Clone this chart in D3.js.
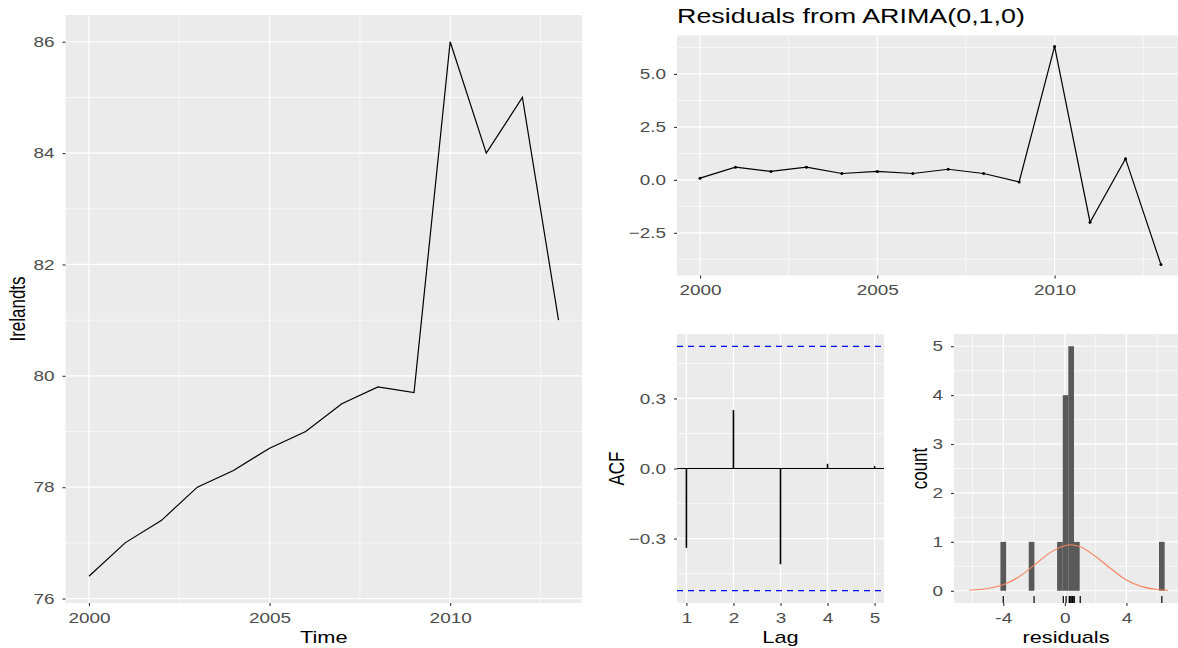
<!DOCTYPE html>
<html>
<head>
<meta charset="utf-8">
<script src="https://cdn.jsdelivr.net/npm/d3@7"></script>
<style>
  body { margin: 0; background: #fff; }
  svg { display: block; font-family: "Liberation Sans", Arial, sans-serif; }
</style>
</head>
<body>
<div id="chart"></div>
<script>
// data
const years = [2000, 2001, 2002, 2003, 2004, 2005, 2006, 2007, 2008, 2009, 2010, 2011, 2012, 2013]
const irelandValues = [76.4, 77.0, 77.4, 78.0, 78.3, 78.7, 79.0, 79.5, 79.8, 79.7, 86.0, 84.0, 85.0, 81.0]
const residualValues = [0.08, 0.6, 0.4, 0.6, 0.3, 0.4, 0.3, 0.5, 0.3, -0.1, 6.3, -2.0, 1.0, -4.0]

const acfLags = [1, 2, 3, 4, 5]
const acfValues = [-0.34, 0.25, -0.41, 0.02, 0.01]
const acfBound = 0.523

const histBinCenters = [-4.0, -2.16, -0.32, 0.05, 0.41, 0.78, 6.3]
const histCounts = [1, 1, 1, 4, 5, 1, 1]
const histBinWidth = 0.368

const normalX = [-6.2, -5, -4, -3, -2, -1, 0, 0.33, 1, 2, 3, 4, 5, 6, 6.7]
const normalY = [0.012, 0.045, 0.125, 0.28, 0.52, 0.77, 0.92, 0.94, 0.9, 0.7, 0.45, 0.22, 0.085, 0.025, 0.01]

const tsTicksX = [2000, 2005, 2010]
const tsMinorX = [2002.5, 2007.5, 2012.5]
const levelTicks = [76, 78, 80, 82, 84, 86]
const levelMinor = [77, 79, 81, 83, 85]
const residTicks = [-2.5, 0, 2.5, 5]
const residMinor = [-3.75, -1.25, 1.25, 3.75, 6.25]
const acfTicks = [-0.3, 0, 0.3]
const acfMinor = [-0.45, -0.15, 0.15, 0.45]
const countTicks = [0, 1, 2, 3, 4, 5]
const countMinor = [0.5, 1.5, 2.5, 3.5, 4.5]
const histTicksX = [-4, 0, 4]
const histMinorX = [-6, -2, 2, 6]

const width = 1178, height = 648
const SX = 1.28  // the picture is stretched sideways, text too

const svg = d3.select("#chart").append("svg")
    .attr("width", width)
    .attr("height", height)

svg.append("rect").attr("width", width).attr("height", height).attr("fill", "#fff")

// draws the grey ggplot-like panel with grid, ticks and labels
function drawPanel(x, y, opts) {
    const g = svg.append("g")
    const [x0, x1] = x.range()
    const [y0, y1] = y.range()
    g.append("rect")
        .attr("x", x0).attr("y", y1)
        .attr("width", x1 - x0).attr("height", y0 - y1)
        .attr("fill", "#EBEBEB")

    const grid = g.append("g").attr("stroke", "#fff").attr("fill", "none")
    ;(opts.minorY || []).forEach(v => {
        grid.append("line").attr("x1", x0).attr("x2", x1)
            .attr("y1", y(v)).attr("y2", y(v)).attr("stroke-width", 0.6)
    })
    ;(opts.minorX || []).forEach(v => {
        grid.append("line").attr("y1", y0).attr("y2", y1)
            .attr("x1", x(v)).attr("x2", x(v)).attr("stroke-width", 0.6)
    })
    opts.ticksY.forEach(v => {
        grid.append("line").attr("x1", x0).attr("x2", x1)
            .attr("y1", y(v)).attr("y2", y(v)).attr("stroke-width", 1.2)
    })
    opts.ticksX.forEach(v => {
        grid.append("line").attr("y1", y0).attr("y2", y1)
            .attr("x1", x(v)).attr("x2", x(v)).attr("stroke-width", 1.2)
    })

    // axes
    const yAxis = d3.axisLeft(y).tickValues(opts.ticksY).tickSize(3).tickPadding(5.5)
        .tickFormat(opts.formatY || (d => d))
    const xAxis = d3.axisBottom(x).tickValues(opts.ticksX).tickSize(3).tickPadding(6.5)
        .tickFormat(opts.formatX || (d => d))
    g.append("g").attr("transform", `translate(${x0},0)`).call(yAxis)
    g.append("g").attr("transform", `translate(0,${y0})`).call(xAxis)
    g.selectAll(".domain").remove()
    g.selectAll(".tick line").attr("stroke", "#333").attr("stroke-width", 1.1)
    g.selectAll(".tick text")
        .attr("fill", "#4D4D4D")
        .attr("transform", `scale(${SX},1)`)
        .style("font-size", "14.8px")

    if (opts.xTitle) {
        g.append("text")
            .attr("transform", `translate(${(x0 + x1) / 2},${y0 + 40}) scale(${SX},1)`)
            .attr("text-anchor", "middle")
            .style("font-size", "17px")
            .text(opts.xTitle)
    }
    if (opts.yTitle) {
        g.append("text")
            .attr("transform", `translate(${opts.yTitleX},${(y0 + y1) / 2}) scale(${SX},1) rotate(-90)`)
            .attr("text-anchor", "middle")
            .style("font-size", "17px")
            .text(opts.yTitle)
    }
    return g
}

// ---- left: the series
const xTs = d3.scaleLinear().domain([1999.35, 2013.65]).range([65.5, 582])
const yTs = d3.scaleLinear().domain([75.92, 86.48]).range([603, 15])
const gTs = drawPanel(xTs, yTs, {
    ticksX: tsTicksX, minorX: tsMinorX, ticksY: levelTicks, minorY: levelMinor,
    xTitle: "Time", yTitle: "Irelandts", yTitleX: 25
})
gTs.append("path")
    .datum(years.map((yr, i) => [yr, irelandValues[i]]))
    .attr("fill", "none")
    .attr("stroke", "#000")
    .attr("stroke-width", 1.2)
    .attr("d", d3.line().x(d => xTs(d[0])).y(d => yTs(d[1])))

// ---- top right: residuals
const xRes = d3.scaleLinear().domain([1999.35, 2013.65]).range([677, 1184])
const yRes = d3.scaleLinear().domain([-4.515, 6.815]).range([275.5, 35.5])
const gRes = drawPanel(xRes, yRes, {
    ticksX: tsTicksX, minorX: tsMinorX, ticksY: residTicks, minorY: residMinor,
    formatY: d3.format(".1f")
})
gRes.append("path")
    .datum(years.map((yr, i) => [yr, residualValues[i]]))
    .attr("fill", "none")
    .attr("stroke", "#000")
    .attr("stroke-width", 1.2)
    .attr("d", d3.line().x(d => xRes(d[0])).y(d => yRes(d[1])))
gRes.selectAll("circle.pt")
    .data(years.map((yr, i) => [yr, residualValues[i]]))
    .join("circle")
    .attr("cx", d => xRes(d[0]))
    .attr("cy", d => yRes(d[1]))
    .attr("r", 1.5)
    .attr("fill", "#000")

svg.append("text")
    .attr("transform", `translate(677,23) scale(${SX},1)`)
    .style("font-size", "21px")
    .text("Residuals from ARIMA(0,1,0)")

// ---- bottom middle: ACF
const xAcf = d3.scaleLinear().domain([0.8, 5.2]).range([677, 884])
const yAcf = d3.scaleLinear().domain([-0.576, 0.576]).range([603, 334])
const gAcf = drawPanel(xAcf, yAcf, {
    ticksX: acfLags, ticksY: acfTicks, minorY: acfMinor,
    formatY: d3.format(".1f"),
    xTitle: "Lag", yTitle: "ACF", yTitleX: 624
})
gAcf.append("line")
    .attr("x1", xAcf.range()[0]).attr("x2", xAcf.range()[1])
    .attr("y1", yAcf(0)).attr("y2", yAcf(0))
    .attr("stroke", "#000").attr("stroke-width", 1.2)
gAcf.selectAll("line.bar")
    .data(acfLags.map((l, i) => [l, acfValues[i]]))
    .join("line")
    .attr("x1", d => xAcf(d[0])).attr("x2", d => xAcf(d[0]))
    .attr("y1", yAcf(0)).attr("y2", d => yAcf(d[1]))
    .attr("stroke", "#000").attr("stroke-width", 1.6)
;[acfBound, -acfBound].forEach(b => {
    gAcf.append("line")
        .attr("x1", xAcf.range()[0]).attr("x2", xAcf.range()[1])
        .attr("y1", yAcf(b)).attr("y2", yAcf(b))
        .attr("stroke", "#0000FF").attr("stroke-width", 1.1)
        .attr("stroke-dasharray", "6,5")
})

// ---- bottom right: histogram
const xHist = d3.scaleLinear().domain([-7.2, 7.35]).range([954, 1178])
const yHist = d3.scaleLinear().domain([-0.25, 5.25]).range([603, 334])
const gHist = drawPanel(xHist, yHist, {
    ticksX: histTicksX, minorX: histMinorX, ticksY: countTicks, minorY: countMinor,
    xTitle: "residuals", yTitle: "count", yTitleX: 927
})
gHist.selectAll("rect.bin")
    .data(histBinCenters.map((c, i) => [c, histCounts[i]]))
    .join("rect")
    .attr("x", d => xHist(d[0] - histBinWidth / 2))
    .attr("width", d => xHist(d[0] + histBinWidth / 2) - xHist(d[0] - histBinWidth / 2))
    .attr("y", d => yHist(d[1]))
    .attr("height", d => yHist(0) - yHist(d[1]))
    .attr("fill", "#595959")
gHist.append("path")
    .datum(normalX.map((v, i) => [v, normalY[i]]))
    .attr("fill", "none")
    .attr("stroke", "#F8825F")
    .attr("stroke-width", 1.1)
    .attr("d", d3.line().curve(d3.curveMonotoneX).x(d => xHist(d[0])).y(d => yHist(d[1])))
// rug
gHist.selectAll("line.rug")
    .data(residualValues)
    .join("line")
    .attr("x1", d => xHist(d)).attr("x2", d => xHist(d))
    .attr("y1", 603).attr("y2", 596)
    .attr("stroke", "#000").attr("stroke-width", 1.2)
</script>
</body>
</html>
